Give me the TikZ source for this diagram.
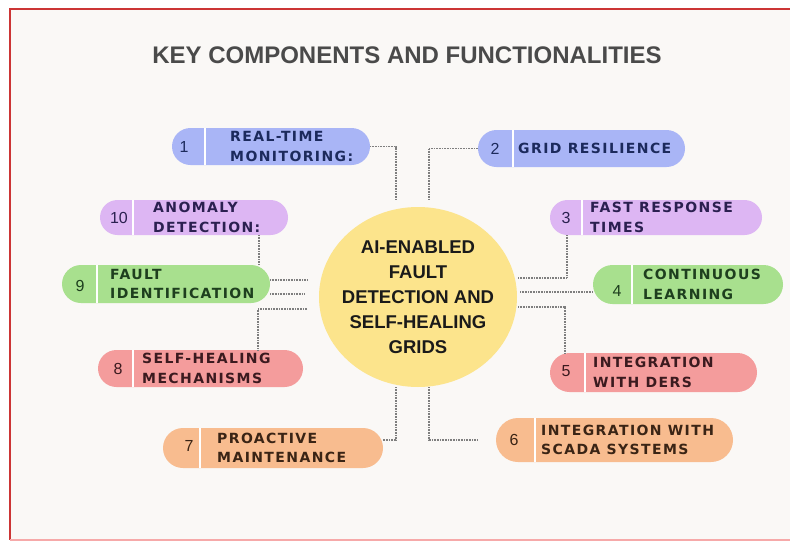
\documentclass[tikz,border=0pt]{standalone}
\usepackage{fontspec}
\setmainfont{Liberation Sans}
\newfontfamily\pillfont[LetterSpace=10]{DejaVu Sans}
\usetikzlibrary{shapes.misc,shapes.geometric}

\definecolor{bgc}{HTML}{FAF8F6}
\definecolor{framered}{HTML}{CC3535}
\definecolor{framepink}{HTML}{F6A9A9}
\definecolor{titlegray}{HTML}{4A4A4A}
\definecolor{blueF}{HTML}{A9B5F6}
\definecolor{purpF}{HTML}{DDB6F3}
\definecolor{greenF}{HTML}{A8E08E}
\definecolor{redF}{HTML}{F49C9C}
\definecolor{orangeF}{HTML}{F8BC8F}
\definecolor{yellowF}{HTML}{FCE48C}
\definecolor{blueT}{HTML}{1C2A5C}
\definecolor{purpT}{HTML}{2B2050}
\definecolor{greenT}{HTML}{1E3F1E}
\definecolor{redT}{HTML}{3B1A1F}
\definecolor{orangeT}{HTML}{3A2415}
\definecolor{hubT}{HTML}{1A1A1A}
\definecolor{connC}{HTML}{7E7E7E}

\tikzset{
  pillbox/.style={rounded rectangle, draw=none, inner sep=0pt, outer sep=0pt},
  divider/.style={draw=white, line width=2pt},
  numtxt/.style={font=\fontsize{16}{16}\selectfont, inner sep=0pt},
  pilltxt/.style={font=\pillfont\bfseries\fontsize{14}{19.5}\selectfont, align=left, anchor=west, inner sep=0pt},
  conn/.style={draw=connC, line width=1.3pt, dash pattern=on 0.9pt off 0.7pt},
  titletxt/.style={font=\bfseries\fontsize{24}{28}\selectfont, text=titlegray},
  hubshape/.style={ellipse, fill=yellowF, draw=none, minimum width=198pt, minimum height=180pt, inner sep=0pt},
  hubtxt/.style={font=\bfseries\fontsize{18.5}{25}\selectfont, text=hubT, align=center, inner sep=0pt},
}

% name, left, top, right, bottom, colour, divider x
\newcommand{\pillshape}[7]{%
  \node[pillbox, fill=#6F, minimum width={(#4-#2)*1pt}, minimum height={(#5-#3)*1pt}] (#1) at ({(#2+#4)/2},{(#3+#5)/2}) {};
  \draw[divider] (#7,#3) -- (#7,#5);
}

\begin{document}
\begin{tikzpicture}[x=1pt,y=-1pt]
\useasboundingbox (0,0) rectangle (790,541);
\fill[white] (0,0) rectangle (790,541);
\fill[bgc] (10,9) rectangle (790,539);
\draw[framered, line width=2.5pt] (790,9) -- (10,9) -- (10,539.5);
\draw[framepink, line width=2pt] (10,539.8) -- (790,539.8);

\node[titletxt] (title) at (407,55) {KEY COMPONENTS AND FUNCTIONALITIES};

% hub
\node[hubshape] (hub) at (418,297) {};
\node[hubtxt] (hubt) at (hub.center) {AI-ENABLED\\FAULT\\DETECTION AND\\SELF-HEALING\\GRIDS};

% pills
\pillshape{p1}{172}{128}{370}{165}{blue}{205}
\node[numtxt, text=blueT] (n1) at (184,146.5) {1};
\node[pilltxt, text=blueT] (t1) at (230,146.5) {REAL-TIME\\MONITORING:};

\pillshape{p2}{478}{130}{685}{167}{blue}{513}
\node[numtxt, text=blueT] (n2) at (495,148.5) {2};
\node[pilltxt, text=blueT] (t2) at (518,148.5) {GRID RESILIENCE};

\pillshape{p3}{550}{200}{762}{235}{purp}{582}
\node[numtxt, text=purpT] (n3) at (566,217.5) {3};
\node[pilltxt, text=purpT] (t3) at (590,217.5) {FAST RESPONSE\\TIMES};

\pillshape{p4}{593}{265}{783}{304}{green}{632}
\node[numtxt, text=greenT] (n4) at (617,291) {4};
\node[pilltxt, text=greenT] (t4) at (643,284.5) {CONTINUOUS\\LEARNING};

\pillshape{p5}{550}{353}{757}{392}{red}{585}
\node[numtxt, text=redT] (n5) at (566,371) {5};
\node[pilltxt, text=redT] (t5) at (593,372.5) {INTEGRATION\\WITH DERS};

\pillshape{p6}{496}{418}{733}{462}{orange}{535}
\node[numtxt, text=orangeT] (n6) at (514,440) {6};
\node[pilltxt, text=orangeT] (t6) at (541,440) {INTEGRATION WITH\\SCADA SYSTEMS};

\pillshape{p7}{163}{428}{383}{468}{orange}{200}
\node[numtxt, text=orangeT] (n7) at (189,446) {7};
\node[pilltxt, text=orangeT] (t7) at (217,448) {PROACTIVE\\MAINTENANCE};

\pillshape{p8}{98}{350}{303}{387}{red}{133}
\node[numtxt, text=redT] (n8) at (118,369) {8};
\node[pilltxt, text=redT] (t8) at (142,368.5) {SELF-HEALING\\MECHANISMS};

\pillshape{p9}{62}{265}{270}{303}{green}{97}
\node[numtxt, text=greenT] (n9) at (80,286) {9};
\node[pilltxt, text=greenT] (t9) at (110,284) {FAULT\\IDENTIFICATION};

\pillshape{p10}{100}{200}{288}{235}{purp}{133}
\node[numtxt, text=purpT] (n10) at (119,217.5) {10};
\node[pilltxt, text=purpT] (t10) at (153,217.5) {ANOMALY\\DETECTION:};

% connectors
\coordinate (e1) at (396,200);
\draw[conn] (p1.east) -| (e1);
\coordinate (e2) at (429,200);
\draw[conn] (p2.west) -| (e2);
\coordinate (e3) at (518,278);
\draw[conn] ([xshift=-89pt]p3.south) |- (e3);
\coordinate (e4) at (520,292);
\draw[conn] (e4) -- (e4 -| p4.west);
\coordinate (e5) at (518,307);
\draw[conn] (e5) -| ([xshift=-88.5pt]p5.north);
\coordinate (e6) at (429,387);
\draw[conn] (e6) |- ([xshift=-18pt]p6.west);
\coordinate (e7) at (396,387);
\draw[conn] (e7) |- ([yshift=8pt]p7.east);
\coordinate (e8) at (307,309);
\draw[conn] (e8) -| ([xshift=57.5pt]p8.north);
\coordinate (e9a) at (307,280);
\coordinate (e9b) at (305,294);
\draw[conn] (e9a -| p9.east) -- (e9a);
\draw[conn] (e9b -| p9.east) -- (e9b);
\coordinate (k10) at ([xshift=65pt]p10.south);
\draw[conn] (k10) -- (k10 |- p9.north);
\end{tikzpicture}
\end{document}
